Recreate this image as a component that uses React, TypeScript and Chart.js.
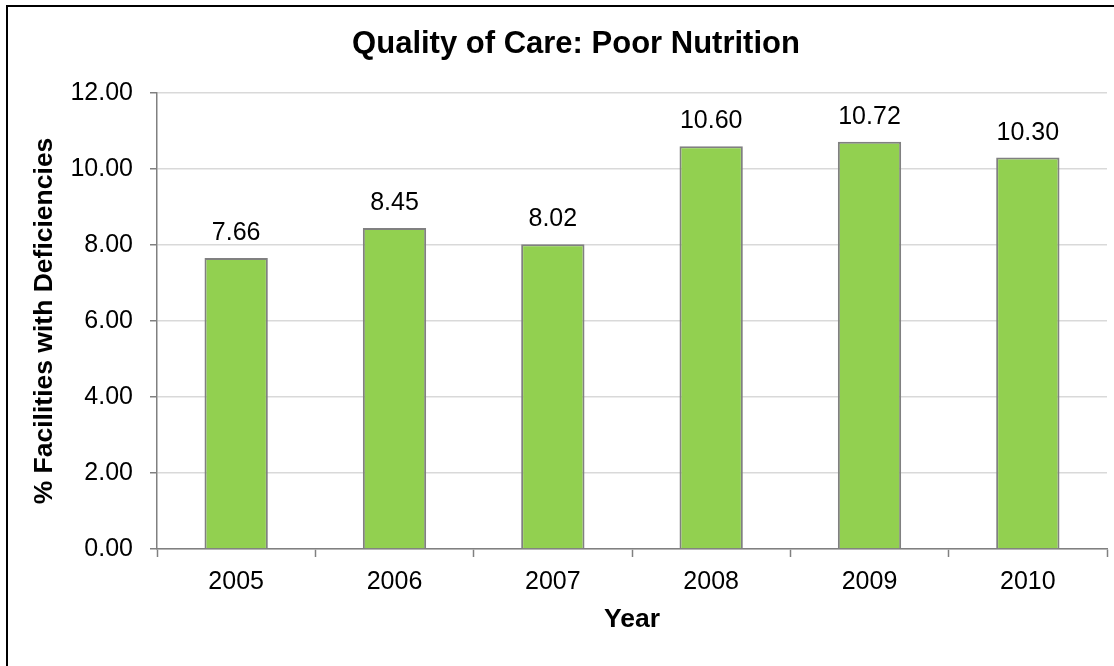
import React, { useEffect, useRef } from "react";
import { Chart, registerables } from "chart.js";

Chart.register(...registerables);

const years: string[] = ["2005", "2006", "2007", "2008", "2009", "2010"];
const deficiencyPct: number[] = [7.66, 8.45, 8.02, 10.6, 10.72, 10.3];
const chartTitle = "Quality of Care: Poor Nutrition";
const yAxisTitle = "% Facilities with Deficiencies";
const xAxisTitle = "Year";

const FONT = "'Liberation Sans', Arial, Helvetica, sans-serif";

const valueLabels = {
  id: "valueLabels",
  afterDatasetsDraw(chart: any) {
    const ctx = chart.ctx;
    const meta = chart.getDatasetMeta(0);
    const data = chart.data.datasets[0].data as number[];
    ctx.save();
    ctx.font = `25px ${FONT}`;
    ctx.fillStyle = "#000";
    ctx.textAlign = "center";
    ctx.textBaseline = "alphabetic";
    meta.data.forEach((bar: any, i: number) => {
      ctx.fillText(data[i].toFixed(2), bar.x, bar.y - 18);
    });
    ctx.restore();
  },
};

const titleDrawer = {
  id: "titleDrawer",
  afterDraw(chart: any) {
    const ctx = chart.ctx;
    ctx.save();
    ctx.font = `bold 31px ${FONT}`;
    ctx.fillStyle = "#000";
    ctx.textAlign = "center";
    ctx.textBaseline = "alphabetic";
    ctx.fillText(chartTitle, 576, 53);
    ctx.restore();
  },
};

export default function App() {
  const canvasRef = useRef<HTMLCanvasElement | null>(null);

  useEffect(() => {
    if (!canvasRef.current) return;
    const chart = new Chart(canvasRef.current, {
      type: "bar",
      data: {
        labels: years,
        datasets: [
          {
            data: deficiencyPct,
            backgroundColor: "#92D050",
            borderColor: "#808080",
            borderWidth: 2,
            barPercentage: 0.4,
            categoryPercentage: 1,
          },
        ],
      },
      options: {
        responsive: false,
        animation: false,
        layout: { padding: { left: 0, right: 7, top: 93, bottom: 0 } },
        plugins: {
          legend: { display: false },
          tooltip: { enabled: false },
          title: { display: false },
        },
        scales: {
          x: {
            offset: true,
            grid: {
              offset: true,
              drawOnChartArea: false,
              drawTicks: true,
              tickLength: 8,
              tickColor: "#808080",
              tickWidth: 1.5,
            },
            border: { color: "#808080", width: 1.5 },
            ticks: {
              color: "#000",
              padding: 10,
              font: { family: FONT, size: 25, lineHeight: 1.2 },
            },
            title: {
              display: true,
              text: xAxisTitle,
              color: "#000",
              font: { family: FONT, size: 26.5, weight: "bold", lineHeight: 1.2 },
              padding: { top: 0, bottom: 30.5 },
            },
            afterFit(scale: any) {
              scale.height = 117;
            },
          },
          y: {
            min: 0,
            max: 12,
            ticks: {
              stepSize: 2,
              color: "#000",
              padding: 17,
              font: { family: FONT, size: 25, lineHeight: 1.2 },
              callback: (v: any) => Number(v).toFixed(2),
            },
            grid: {
              color: "#d9d9d9",
              lineWidth: 1.5,
              tickColor: "#808080",
              tickLength: 7,
              tickWidth: 1.5,
            },
            border: { color: "#808080", width: 1.5 },
            title: {
              display: true,
              text: yAxisTitle,
              color: "#000",
              font: { family: FONT, size: 26.5, weight: "bold", lineHeight: 1.2 },
              padding: { top: 29, bottom: 0 },
            },
            afterFit(scale: any) {
              scale.width = 157;
            },
          },
        },
      },
      plugins: [valueLabels, titleDrawer],
    } as any);
    return () => chart.destroy();
  }, []);

  return (
    <div
      style={{
        position: "fixed",
        left: 0,
        top: 0,
        width: 1114,
        height: 666,
        background: "#fff",
        overflow: "hidden",
      }}
    >
      <canvas
        ref={canvasRef}
        width={1114}
        height={666}
        style={{ display: "block", width: 1114, height: 666 }}
      />
      <div
        style={{
          position: "absolute",
          left: 6,
          top: 5,
          width: 1200,
          height: 800,
          borderLeft: "2px solid #000",
          borderTop: "2px solid #000",
          pointerEvents: "none",
        }}
      />
    </div>
  );
}
